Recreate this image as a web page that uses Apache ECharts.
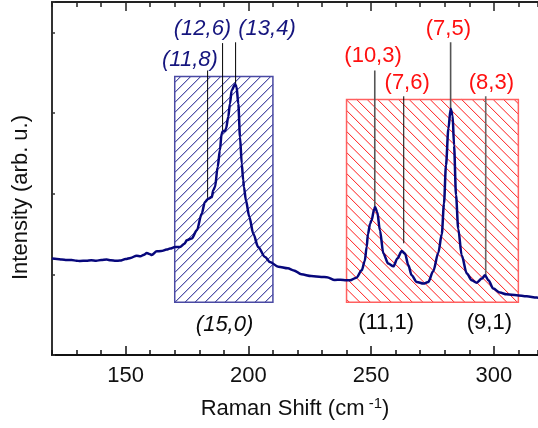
<!DOCTYPE html>
<html>
<head>
<meta charset="utf-8">
<script src="https://cdn.jsdelivr.net/npm/echarts@6/dist/echarts.min.js"></script>
<style>
  html, body { margin: 0; padding: 0; background: #ffffff; }
  #chart { width: 538px; height: 428px; }
</style>
</head>
<body>
<div id="chart"></div>
<script>
// Raman spectrum (RBM region): shift in cm^-1 and intensity in arbitrary units
const ramanShift = [
  120.0, 122.0, 124.0, 126.0, 128.0, 130.0, 131.4, 134.0, 136.0, 138.0,
  140.0, 142.3, 144.0, 146.0, 147.7, 150.0, 152.0, 154.5, 156.0, 157.5,
  158.6, 160.0, 160.6, 162.7, 164.5, 166.7, 168.1, 170.1, 172.1, 174.0,
  174.9, 176.9, 179.0, 181.0, 182.3, 183.7, 185.1, 185.7, 186.4, 187.5,
  188.4, 189.1, 189.7, 190.5, 190.9, 191.8, 192.5, 193.2, 194.6, 195.2,
  195.9, 196.6, 197.3, 197.9, 198.2, 199.0, 200.4, 202.0, 204.0, 206.8,
  208.8, 212.2, 216.1, 218.5, 221.6, 225.6, 229.7, 232.0, 235.2, 237.5,
  239.9, 241.4, 244.0, 246.2, 247.4, 248.2, 248.7, 249.6, 250.2, 251.3,
  251.6, 252.5, 253.6, 255.0, 257.0, 259.1, 260.7, 262.5, 263.8, 265.2,
  266.5, 268.6, 271.3, 273.3, 275.3, 277.4, 278.8, 279.7, 280.5, 281.5,
  282.4, 283.2, 283.8, 284.6, 285.5, 286.9, 289.0, 291.0, 293.0, 295.1,
  296.4, 297.8, 299.8, 302.5, 305.2, 309.3, 313.4, 317.5, 318.5
];
const intensity = [
  1.196, 1.190, 1.185, 1.180, 1.178, 1.170, 1.166, 1.170, 1.175, 1.170,
  1.178, 1.184, 1.175, 1.170, 1.171, 1.190, 1.205, 1.233, 1.225, 1.245,
  1.266, 1.250, 1.241, 1.287, 1.290, 1.308, 1.320, 1.340, 1.340, 1.380,
  1.423, 1.444, 1.547, 1.754, 1.898, 1.940, 1.960, 2.043, 2.084, 2.333,
  2.540, 2.747, 2.779, 2.779, 2.809, 2.953, 3.119, 3.284, 3.359, 3.325,
  3.119, 2.705, 2.375, 2.167, 2.084, 1.919, 1.712, 1.506, 1.340, 1.216,
  1.154, 1.095, 1.075, 1.050, 1.001, 0.980, 0.968, 0.965, 0.931, 0.935,
  0.927, 0.927, 0.960, 1.051, 1.166, 1.340, 1.497, 1.630, 1.671, 1.816,
  1.836, 1.774, 1.547, 1.258, 1.134, 1.100, 1.196, 1.290, 1.258, 1.113,
  0.989, 0.906, 0.886, 0.906, 1.040, 1.270, 1.500, 1.880, 2.350, 2.809,
  3.057, 2.974, 2.602, 1.981, 1.568, 1.237, 1.010, 0.927, 0.898, 0.948,
  0.989, 0.927, 0.824, 0.774, 0.753, 0.741, 0.728, 0.712, 0.710
];

// axis ticks
const xMajorTicks = [150, 200, 250, 300];

// shaded windows: [shiftStart, shiftEnd, intensityBottom, intensityTop]
const windowSemi = [170, 210, 0.655, 3.455];
const windowMetal = [240, 310, 0.655, 3.17];

// chirality assignments: name, label anchor [shift, intensity]
const semiNames = ['(11,8)', '(12,6)', '(13,4)'];
const semiAnchors = [[176.2, 3.665], [181.3, 4.05], [207.6, 4.05]];
// leader lines: [shift, top, bottom]
const semiLeaders = [[183.4, 3.53, 1.95], [189.5, 3.87, 2.79], [194.8, 3.88, 3.36]];

const metalNames = ['(10,3)', '(7,6)', '(7,5)', '(8,3)'];
const metalAnchors = [[250.8, 3.706], [264.7, 3.375], [281.5, 4.05], [299.0, 3.375]];
const metalLeaders = [[251.5, 3.53, 1.845], [263.3, 3.21, 1.386], [282.4, 3.88, 3.06], [296.7, 3.21, 0.99]];

const lowerNames = ['(15,0)', '(11,1)', '(9,1)'];
const lowerAnchors = [[190.3, 0.372], [256.1, 0.402], [298.2, 0.402]];

const FONT = 'Liberation Sans, Arial, Helvetica, sans-serif';
const NAVY = '#07077c';
const LABEL_NAVY = '#15157e';
const RED = '#ff1010';
const INK = '#0a0a0a';

const spectrum = ramanShift.map((x, i) => [x, intensity[i]]);

function hatchWindow(box, edgeColor, lineColor, direction, step) {
  return {
    type: 'custom',
    silent: true,
    z: 1,
    data: [box],
    encode: { x: [0, 1], y: [2, 3] },
    renderItem: function (params, api) {
      const tl = api.coord([api.value(0), api.value(3)]);
      const br = api.coord([api.value(1), api.value(2)]);
      const x0 = tl[0], y0 = tl[1], x1 = br[0], y1 = br[1];
      const children = [];
      if (direction > 0) {
        // rising hatch: x + y = c
        for (let c = x0 + y0 + step * 0.6; c < x1 + y1; c += step) {
          const xa = Math.max(x0, c - y1), xb = Math.min(x1, c - y0);
          if (xb - xa < 0.5) continue;
          children.push({ type: 'line', shape: { x1: xa, y1: c - xa, x2: xb, y2: c - xb },
            style: { stroke: lineColor, lineWidth: 1 } });
        }
      } else {
        // falling hatch: y = x + c
        for (let c = y0 - x1 + step * 0.4; c < y1 - x0; c += step) {
          const xa = Math.max(x0, y0 - c), xb = Math.min(x1, y1 - c);
          if (xb - xa < 0.5) continue;
          children.push({ type: 'line', shape: { x1: xa, y1: xa + c, x2: xb, y2: xb + c },
            style: { stroke: lineColor, lineWidth: 1 } });
        }
      }
      children.push({ type: 'rect', shape: { x: x0, y: y0, width: x1 - x0, height: y1 - y0 },
        style: { fill: null, stroke: edgeColor, lineWidth: 1.5 } });
      return { type: 'group', children: children };
    }
  };
}

function leaderSeries(leaders, colors, widths) {
  return leaders.map((l, i) => ({
    type: 'line', z: 2, silent: true, symbol: 'none',
    data: [[l[0], l[1]], [l[0], l[2]]],
    lineStyle: { color: colors[i], width: widths[i] }
  }));
}

function textSeries(names, anchors, color, italic) {
  return {
    type: 'scatter', z: 4, silent: true, symbolSize: 1,
    itemStyle: { color: 'rgba(0,0,0,0)', opacity: 1 },
    data: names.map((n, i) => ({ name: n, value: anchors[i] })),
    label: {
      show: true, position: 'inside', formatter: '{b}',
      fontFamily: FONT, fontSize: 22, color: color, opacity: 1,
      fontStyle: italic ? 'italic' : 'normal'
    }
  };
}

const baseX = { type: 'value', min: 120, max: 318, splitLine: { show: false } };

const option = {
  animation: false,
  backgroundColor: '#ffffff',
  grid: { left: 52, right: 0, top: 2, bottom: 73, containLabel: false },
  xAxis: [
    Object.assign({}, baseX, {
      position: 'bottom', interval: 10,
      axisLine: { lineStyle: { color: '#111', width: 2 } },
      axisTick: { inside: true, length: 5, lineStyle: { color: '#111', width: 1.5 } },
      axisLabel: { show: false },
      name: '{n|Raman Shift (cm}{s| -1}{n|)}',
      nameLocation: 'middle', nameGap: 41,
      nameTextStyle: {
        fontFamily: FONT, color: '#111',
        rich: {
          n: { fontFamily: FONT, fontSize: 22, color: '#111', lineHeight: 26 },
          s: { fontFamily: FONT, fontSize: 15, color: '#111', lineHeight: 18, verticalAlign: 'top' }
        }
      }
    }),
    Object.assign({}, baseX, {
      position: 'bottom',
      axisLine: { show: false },
      axisTick: { inside: true, length: 9, customValues: xMajorTicks, lineStyle: { color: '#111', width: 1.5 } },
      axisLabel: { customValues: xMajorTicks, fontFamily: FONT, fontSize: 22, color: '#111', margin: 10 }
    }),
    Object.assign({}, baseX, {
      position: 'top', interval: 10,
      axisLine: { lineStyle: { color: '#222', width: 2 } },
      axisTick: { inside: true, length: 5, lineStyle: { color: '#222', width: 1.5 } },
      axisLabel: { show: false }
    }),
    Object.assign({}, baseX, {
      position: 'top',
      axisLine: { show: false },
      axisTick: { inside: true, length: 9, customValues: xMajorTicks, lineStyle: { color: '#222', width: 1.5 } },
      axisLabel: { show: false }
    })
  ],
  yAxis: {
    type: 'value', min: 0, max: 4.38, interval: 1,
    name: 'Intensity (arb. u.)', nameLocation: 'middle', nameGap: 20, nameRotate: 90,
    nameTextStyle: { fontFamily: FONT, fontSize: 22, color: '#111', padding: [0, 38, 0, 0] },
    axisLine: { show: true, lineStyle: { color: '#333', width: 2 } },
    axisTick: { show: true, inside: true, length: 3, lineStyle: { color: '#333', width: 1.5 } },
    axisLabel: { show: false },
    splitLine: { show: false }
  },
  series: [
    hatchWindow(windowSemi, '#4a4aa4', '#16168a', 1, 10),
    hatchWindow(windowMetal, '#ff6060', '#ff1c1c', -1, 10.5),
    ...leaderSeries(semiLeaders, ['#000', '#000', '#000'], [1, 1, 1]),
    ...leaderSeries(metalLeaders, ['#555', '#000', '#555', '#666'], [1.6, 1, 1.6, 1.6]),
    {
      type: 'line', z: 3, silent: true, symbol: 'none',
      data: spectrum,
      smooth: 0.3, smoothMonotone: 'x',
      lineStyle: { color: NAVY, width: 2.5 }
    },
    textSeries(semiNames, semiAnchors, LABEL_NAVY, true),
    textSeries(metalNames, metalAnchors, RED, false),
    textSeries(lowerNames.slice(0, 1), lowerAnchors.slice(0, 1), INK, true),
    textSeries(lowerNames.slice(1), lowerAnchors.slice(1), INK, false)
  ]
};

const chart = echarts.init(document.getElementById('chart'), null, { renderer: 'canvas' });
chart.setOption(option);
</script>
</body>
</html>
